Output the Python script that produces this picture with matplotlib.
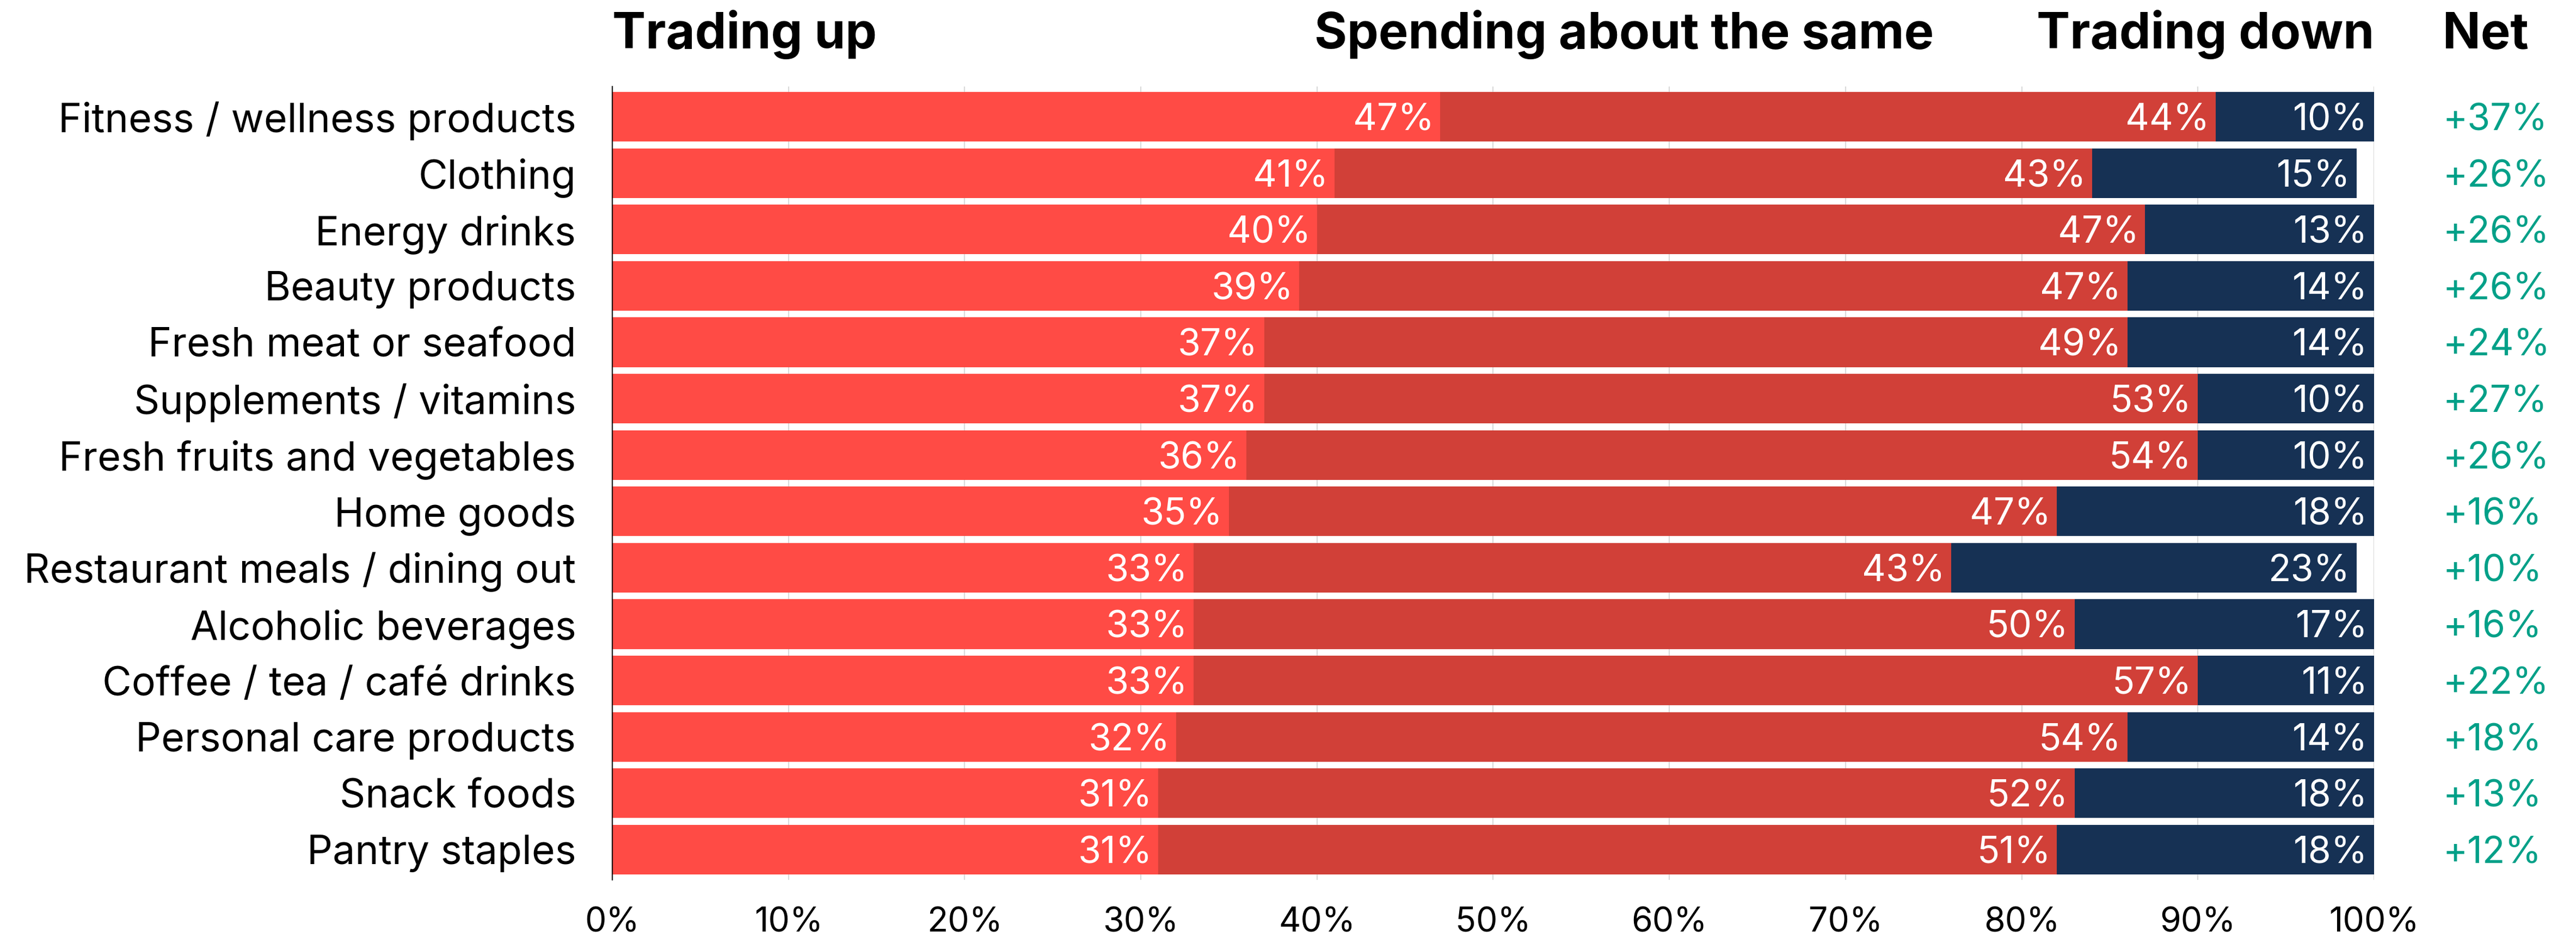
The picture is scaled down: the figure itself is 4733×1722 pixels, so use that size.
import matplotlib.pyplot as plt
import matplotlib.transforms as mtransforms

plt.rcParams['font.family'] = ['Inter', 'DejaVu Sans']

# Share of respondents by category (%)
categories = ['Fitness / wellness products', 'Clothing', 'Energy drinks', 'Beauty products',
              'Fresh meat or seafood', 'Supplements / vitamins', 'Fresh fruits and vegetables',
              'Home goods', 'Restaurant meals / dining out', 'Alcoholic beverages',
              'Coffee / tea / café drinks', 'Personal care products', 'Snack foods', 'Pantry staples']
trading_up = [47, 41, 40, 39, 37, 37, 36, 35, 33, 33, 33, 32, 31, 31]
same = [44, 43, 47, 47, 49, 53, 54, 47, 43, 50, 57, 54, 52, 51]
trading_down = [10, 15, 13, 14, 14, 10, 10, 18, 23, 17, 11, 14, 18, 18]
net = [37, 26, 26, 26, 24, 27, 26, 16, 10, 16, 22, 18, 13, 12]

ticks = [0, 10, 20, 30, 40, 50, 60, 70, 80, 90, 100]

c_up = '#ff4b45'
c_same = '#d14038'
c_down = '#163154'
c_net = '#00a088'

fig = plt.figure(figsize=(47.33, 17.22), dpi=100)
ax = fig.add_axes([0.2377, 0.061, 0.6839, 0.8467])

y = list(range(len(categories)))
h = 0.88
left_same = [u for u in trading_up]
left_down = [u + s for u, s in zip(trading_up, same)]

ax.barh(y, trading_up, height=h, color=c_up, zorder=2)
ax.barh(y, same, left=left_same, height=h, color=c_same, zorder=2)
ax.barh(y, trading_down, left=left_down, height=h, color=c_down, zorder=2)

pad = 0.35
for i in y:
    ends = [trading_up[i], left_down[i], left_down[i] + trading_down[i]]
    vals = [trading_up[i], same[i], trading_down[i]]
    for e, v in zip(ends, vals):
        ax.text(min(e, 100) - pad, i, f'{v}%', color='white', ha='right', va='center_baseline',
                fontsize=49, zorder=3)
    ax.text(103.9, i, f'+{net[i]}%', color=c_net, ha='left', va='center_baseline',
            fontsize=49, clip_on=False)

ax.set_xlim(0, 100)
ax.set_ylim(13.537, -0.537)
ax.set_yticks(y)
ax.set_yticklabels(categories, fontsize=53)
ax.set_xticks(ticks)
ax.set_xticklabels([f'{t}%' for t in ticks], fontsize=45)
ax.tick_params(axis='both', length=0)
ax.tick_params(axis='y', pad=48)
ax.tick_params(axis='x', pad=36)
ax.grid(axis='x', color='#d9d9d9', linewidth=1.5, zorder=0)
ax.set_axisbelow(True)
for side in ['top', 'right', 'bottom']:
    ax.spines[side].set_visible(False)
ax.spines['left'].set_linewidth(1.5)
ax.spines['left'].set_zorder(4)

# column headers above the bars
trans = mtransforms.blended_transform_factory(ax.transData, fig.transFigure)
hy = 1 - 89 / 1722
ax.text(0, hy, 'Trading up', transform=trans, ha='left', va='baseline',
        fontsize=66, fontweight='bold')
ax.text(75, hy, 'Spending about the same', transform=trans, ha='right', va='baseline',
        fontsize=66, fontweight='bold')
ax.text(100, hy, 'Trading down', transform=trans, ha='right', va='baseline',
        fontsize=66, fontweight='bold')
ax.text(103.9, hy, 'Net', transform=trans, ha='left', va='baseline',
        fontsize=66, fontweight='bold')

fig.savefig('out.png', dpi=100, facecolor='white')
